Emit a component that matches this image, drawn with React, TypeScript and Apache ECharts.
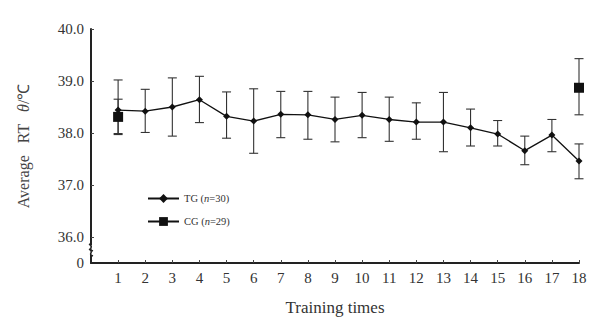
import React, { useEffect, useRef } from "react";
import * as echarts from "echarts";

const sessions = [1, 2, 3, 4, 5, 6, 7, 8, 9, 10, 11, 12, 13, 14, 15, 16, 17, 18];
const tgMean = [38.44, 38.42, 38.5, 38.64, 38.32, 38.23, 38.36, 38.35, 38.26, 38.34, 38.26, 38.21, 38.21, 38.1, 37.98, 37.66, 37.96, 37.46];
const tgHigh = [39.02, 38.84, 39.06, 39.09, 38.79, 38.85, 38.8, 38.8, 38.69, 38.78, 38.69, 38.58, 38.78, 38.46, 38.24, 37.94, 38.26, 37.79];
const tgLow = [37.97, 38.01, 37.94, 38.2, 37.9, 37.61, 37.91, 37.88, 37.83, 37.91, 37.84, 37.88, 37.64, 37.75, 37.75, 37.39, 37.64, 37.12];
const cgSessions = [1, 18];
const cgMean = [38.31, 38.87];
const cgHigh = [38.65, 39.43];
const cgLow = [37.99, 38.35];
const yTickValues = [36, 37, 38, 39, 40];
const yLabelValues = [35.5, 36, 37, 38, 39, 40];

const FONT = '"Liberation Serif", "Times New Roman", serif';

export default function App() {
  const ref = useRef<HTMLDivElement>(null);
  useEffect(() => {
    if (!ref.current) return;
    const chart = echarts.init(ref.current, null, { renderer: "svg" });
    const errData: number[][] = [];
    sessions.forEach((s, i) => errData.push([s, tgLow[i], tgHigh[i]]));
    cgSessions.forEach((s, i) => errData.push([s, cgLow[i], cgHigh[i]]));
    const cgData: any[] = [[cgSessions[0], cgMean[0]], [9.5, "-"], [cgSessions[1], cgMean[1]]];

    chart.setOption({
      animation: false,
      backgroundColor: "#ffffff",
      textStyle: { fontFamily: FONT },
      grid: { left: 91, top: 29, right: 15, bottom: 65 },
      xAxis: {
        type: "value",
        min: 0,
        max: 18,
        interval: 1,
        name: "Training times",
        nameLocation: "middle",
        nameGap: 36,
        nameTextStyle: { fontFamily: FONT, fontSize: 17, color: "#333" },
        axisLine: { show: true, lineStyle: { color: "#222", width: 2 } },
        axisTick: { show: true, inside: true, length: 3, customValues: sessions, lineStyle: { color: "#444", width: 1 } },
        axisLabel: { customValues: sessions, fontFamily: FONT, fontSize: 15, color: "#333", margin: 7 },
        splitLine: { show: false },
      },
      yAxis: {
        type: "value",
        min: 35.5,
        max: 40,
        name: "Average   RT   {i|θ}/℃",
        nameLocation: "middle",
        nameGap: 60,
        nameRotate: 90,
        nameTextStyle: {
          fontFamily: FONT,
          fontSize: 16,
          color: "#444",
          rich: { i: { fontStyle: "italic", fontFamily: FONT, fontSize: 16, color: "#444" } },
        },
        axisLine: { show: true, lineStyle: { color: "#222", width: 2 } },
        axisTick: { show: true, inside: true, length: 3, customValues: yTickValues, lineStyle: { color: "#444" } },
        axisLabel: {
          customValues: yLabelValues,
          fontFamily: FONT,
          fontSize: 15,
          color: "#333",
          margin: 7,
          formatter: (v: number) => (v === 35.5 ? "0" : v.toFixed(1)),
        },
        splitLine: { show: false },
      },
      legend: {
        orient: "vertical",
        left: 142,
        top: 188,
        itemWidth: 31,
        itemHeight: 11,
        itemGap: 12,
        textStyle: {
          fontFamily: FONT,
          fontSize: 10.5,
          color: "#333",
          rich: { i: { fontStyle: "italic", fontFamily: FONT, fontSize: 10.5, color: "#333" } },
        },
        formatter: (name: string) => (name === "TG" ? "TG ({i|n}=30)" : "CG ({i|n}=29)"),
        data: ["TG", "CG"],
      },
      series: [
        {
          type: "custom",
          name: "err",
          silent: true,
          renderItem: (params: any, api: any) => {
            const x = api.value(0);
            const lo = api.coord([x, api.value(1)]);
            const hi = api.coord([x, api.value(2)]);
            const w = 4.5;
            const style = { stroke: "#333", lineWidth: 1.1 };
            return {
              type: "group",
              children: [
                { type: "line", shape: { x1: lo[0], y1: lo[1], x2: hi[0], y2: hi[1] }, style },
                { type: "line", shape: { x1: hi[0] - w, y1: hi[1], x2: hi[0] + w, y2: hi[1] }, style },
                { type: "line", shape: { x1: lo[0] - w, y1: lo[1], x2: lo[0] + w, y2: lo[1] }, style },
              ],
            };
          },
          encode: { x: 0, y: [1, 2] },
          data: errData,
          z: 1,
        },
        {
          type: "line",
          name: "TG",
          data: sessions.map((s, i) => [s, tgMean[i]]),
          symbol: "diamond",
          symbolSize: 7,
          lineStyle: { color: "#111", width: 1.3 },
          itemStyle: { color: "#111" },
          z: 3,
        },
        {
          type: "line",
          name: "CG",
          data: cgData,
          connectNulls: false,
          symbol: "rect",
          symbolSize: 10,
          showAllSymbol: true,
          lineStyle: { color: "#111", width: 1.2 },
          itemStyle: { color: "#111" },
          z: 4,
        },
      ],
    });

    const p = chart.convertToPixel({ gridIndex: 0 }, [0, 35.75]) as number[];
    chart.setOption({
      graphic: [
        {
          type: "rect",
          shape: { x: p[0] - 3, y: p[1] - 5, width: 6, height: 10 },
          style: { fill: "#fff" },
          z: 100,
        },
        {
          type: "bezierCurve",
          shape: { x1: p[0] - 2, y1: p[1] - 6, cpx1: p[0] + 4, cpy1: p[1] - 3, cpx2: p[0] - 4, cpy2: p[1] - 1, x2: p[0] + 2, y2: p[1] + 1 },
          style: { stroke: "#222", lineWidth: 1.5, fill: null },
          z: 101,
        },
        {
          type: "bezierCurve",
          shape: { x1: p[0] - 2, y1: p[1] - 1, cpx1: p[0] + 4, cpy1: p[1] + 2, cpx2: p[0] - 4, cpy2: p[1] + 4, x2: p[0] + 2, y2: p[1] + 6 },
          style: { stroke: "#222", lineWidth: 1.5, fill: null },
          z: 101,
        },
      ],
    });

    return () => chart.dispose();
  }, []);
  return <div ref={ref} style={{ width: 594, height: 328, position: "absolute", left: 0, top: 0 }} />;
}
